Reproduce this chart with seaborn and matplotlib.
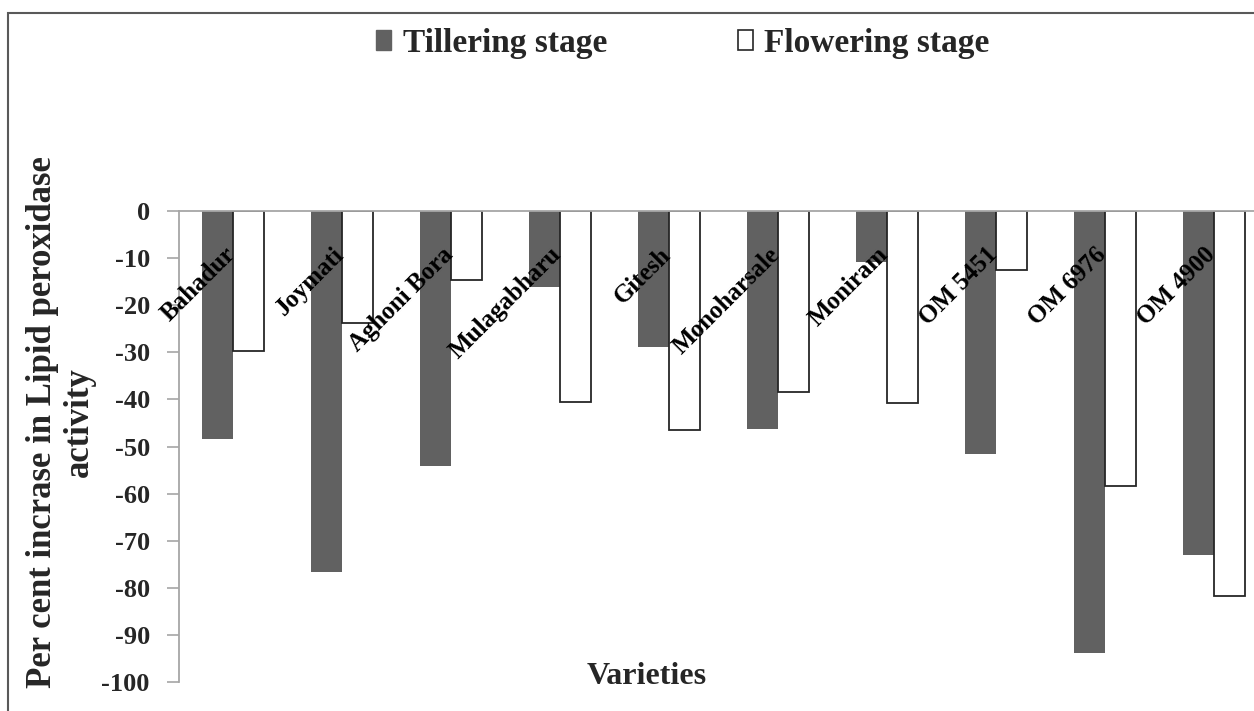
import matplotlib
matplotlib.use("Agg")
import matplotlib.pyplot as plt
from matplotlib.patches import Patch, Rectangle
import seaborn as sns
import pandas as pd

# Varieties and per cent change in lipid peroxidase activity
varieties = ["Bahadur", "Joymati", "Aghoni Bora", "Mulagabharu", "Gitesh",
             "Monoharsale", "Moniram", "OM 5451", "OM 6976", "OM 4900"]
tillering = [-48.4, -76.7, -54.1, -16.1, -28.9, -46.3, -10.8, -51.6, -93.8, -73.0]
flowering = [-29.7, -23.8, -14.6, -40.6, -46.6, -38.4, -40.8, -12.5, -58.4, -81.8]
stages = ["Tillering stage", "Flowering stage"]
y_ticks = list(range(-100, 1, 10))

df = pd.DataFrame({
    "Variety": varieties * 2,
    "Stage": [stages[0]] * len(varieties) + [stages[1]] * len(varieties),
    "Value": tillering + flowering,
})

sns.set_style("white")
plt.rcParams["font.family"] = ["Liberation Serif", "DejaVu Serif"]
plt.rcParams["font.weight"] = "bold"
plt.rcParams["axes.unicode_minus"] = False

W, H = 1254, 711
fig = plt.figure(figsize=(W / 100, H / 100), dpi=100)
ax = fig.add_axes([179 / W, 1 - 682 / H, 1089 / W, (682 - 211) / H])

dark = "#616161"
edge = "#262626"
sns.barplot(data=df, x="Variety", y="Value", hue="Stage", order=varieties,
            hue_order=stages, palette=[dark, "white"], width=0.57,
            errorbar=None, ax=ax, legend=False)

for bar in ax.containers[0]:
    bar.set_facecolor(dark)
    bar.set_edgecolor(dark)
    bar.set_linewidth(0)
for bar in ax.containers[1]:
    bar.set_facecolor("white")
    bar.set_edgecolor(edge)
    bar.set_linewidth(1.3)

ax.set_ylim(-100, 0)
ax.set_xlim(-0.5, len(varieties) - 0.5)
ax.set_yticks(y_ticks)
ax.set_yticklabels([str(v) for v in y_ticks], fontsize=19, fontweight="bold")
ax.tick_params(axis="y", direction="out", length=9, width=1.2,
               color="#a6a6a6", pad=12, left=True)
ax.tick_params(axis="x", length=0, labelbottom=False)
ax.set_xlabel("")
ax.set_ylabel("")

for side in ["right", "bottom"]:
    ax.spines[side].set_visible(False)
for side in ["left", "top"]:
    ax.spines[side].set_color("#a6a6a6")
    ax.spines[side].set_linewidth(1.3)
ax.spines["top"].set_clip_on(False)

# Rotated variety names just under the zero line
for xpos, name in zip(ax.get_xticks(), varieties):
    ax.text(xpos - 0.02, -8.5, name, rotation=45, rotation_mode="anchor",
            ha="right", va="center", fontsize=18, fontweight="bold",
            color="black", zorder=5)

fig.text(61 / W, 1 - 422 / H, "Per cent incrase in Lipid peroxidase\nactivity",
         rotation=90, ha="center", va="center", multialignment="center",
         fontsize=25, fontweight="bold", linespacing=1.15)
fig.text(647 / W, 1 - 684 / H, "Varieties", ha="center", va="baseline",
         fontsize=23, fontweight="bold")

handles = [Patch(facecolor=dark, edgecolor=dark),
           Patch(facecolor="white", edgecolor=edge, linewidth=1.2)]
fig.legend(handles, stages, loc="center", bbox_to_anchor=(683 / W, 1 - 43.6 / H),
           ncol=2, frameon=False, prop={"size": 24, "weight": "bold"},
           handlelength=0.45, handleheight=0.55, handletextpad=0.35,
           columnspacing=3.9)

fig.add_artist(Rectangle((8 / W, -0.1), 1.2, (1 - 13 / H) + 0.1,
                         transform=fig.transFigure, fill=False,
                         edgecolor="#595959", linewidth=1.5, clip_on=False))

fig.savefig("out.png", dpi=100, facecolor="white")
